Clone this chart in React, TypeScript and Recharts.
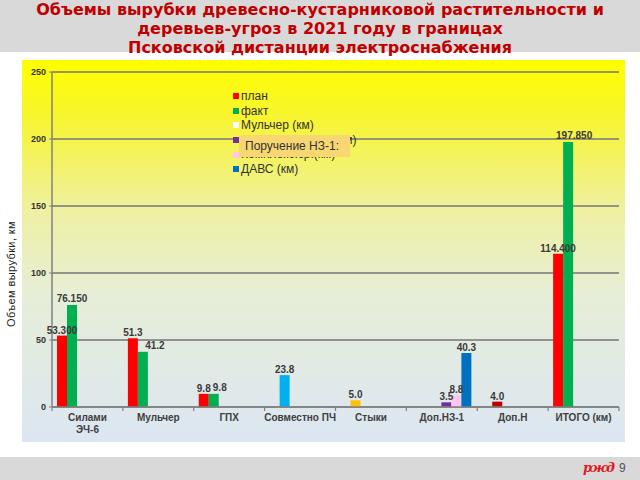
import { BarChart, Bar, XAxis, YAxis, CartesianGrid, LabelList, Legend } from "recharts"

const categories = ["Силами\nЭЧ-6", "Мульчер", "ГПХ", "Совместно ПЧ", "Стыки", "Доп.НЗ-1", "Доп.Н", "ИТОГО (км)"]
const plan = [53.3, 51.3, 9.8, null, null, null, null, 114.4]
const fact = [76.15, 41.2, 9.8, null, null, null, null, 197.85]
const jointPch = [null, null, null, 23.8, null, null, null, null]
const seams = [null, null, null, null, 5.0, null, null, null]
const extraN = [null, null, null, null, null, null, 4.0, null]
const mulcher = [null, null, null, null, null, null, null, null]
const orderNz = [null, null, null, null, null, 3.5, null, null]
const complexSr = [null, null, null, null, null, 8.8, null, null]
const davs = [null, null, null, null, null, 40.3, null, null]
const decimals = [3, 1, 1, 1, 1, 1, 1, 3]
const yTicks = [0, 50, 100, 150, 200, 250]

const legendItems = [
  { name: "план", color: "#ff0000" },
  { name: "факт", color: "#00b050" },
  { name: "Мульчер (км)", color: "#ffffff" },
  { name: "Поручение НЗ-1 (км)", color: "#7030a0" },
  { name: "Комплекс.ср.(км)", color: "#ffc6f0" },
  { name: "ДАВС (км)", color: "#0070c0" },
]

const fmt = (v: number | null, i: number) => (v == null ? null : v.toFixed(decimals[i]))

const data = categories.map((name, i) => ({
  name,
  plan: plan[i],
  fact: fact[i],
  jointPch: jointPch[i],
  seams: seams[i],
  extraN: extraN[i],
  mulcher: mulcher[i],
  orderNz: orderNz[i],
  complexSr: complexSr[i],
  davs: davs[i],
  planL: fmt(plan[i], i),
  factL: fmt(fact[i], i),
  jointPchL: fmt(jointPch[i], i),
  seamsL: fmt(seams[i], i),
  extraNL: fmt(extraN[i], i),
  orderNzL: fmt(orderNz[i], i),
  complexSrL: fmt(complexSr[i], i),
  davsL: fmt(davs[i], i),
}))

const CHART_W = 603
const CHART_H = 382
const MARGIN = { top: 12, right: 6, left: 0, bottom: 0 }
const Y_W = 30
const BAND = (CHART_W - Y_W - MARGIN.left - MARGIN.right) / categories.length

const sans = "'Liberation Sans', Arial, sans-serif"
const labelStyle = { fontSize: 10, fontWeight: 700, fill: "#3a3a3a", fontFamily: sans }

function CategoryTick({ x, y, payload, index }: any) {
  const lines = String(payload.value).split("\n")
  const last = index === categories.length - 1
  return (
    <g>
      <line x1={x - BAND / 2} x2={x - BAND / 2} y1={y} y2={y + 4} stroke="#808080" strokeWidth={1.2} />
      {last && <line x1={x + BAND / 2} x2={x + BAND / 2} y1={y} y2={y + 4} stroke="#808080" strokeWidth={1.2} />}
      <text x={x} y={y + 14} textAnchor="middle" fontSize={10} fontWeight={700} fill="#404040" fontFamily={sans}>
        {lines.map((l, i) => (
          <tspan key={i} x={x} dy={i === 0 ? 0 : 12}>{l}</tspan>
        ))}
      </text>
    </g>
  )
}

// fact labels sit a bit right of the bar where they'd run into the plan label (as in the original)
function FactLabel({ x, y, width, value, index }: any) {
  if (value == null) return null
  const dx = index === 0 ? 0 : index === 1 ? 12 : 6
  return (
    <text x={x + width / 2 + dx} y={y - 3} textAnchor="middle" {...labelStyle}>
      {value}
    </text>
  )
}

function LegendBox() {
  return (
    <div style={{ fontFamily: sans, fontSize: 12, color: "#333", lineHeight: "14.6px" }}>
      {legendItems.map((p) => (
        <div key={p.name} style={{ display: "flex", alignItems: "center", whiteSpace: "nowrap" }}>
          <span style={{ width: 6, height: 6, background: p.color, marginRight: 2, display: "inline-block" }} />
          {p.name}
        </div>
      ))}
    </div>
  )
}

export default function App() {
  return (
    <div style={{ position: "fixed", left: 0, top: 0, width: 640, height: 480, background: "#fff", overflow: "hidden" }}>
      <div
        style={{
          position: "absolute", left: 0, top: 0, width: 640, height: 52, background: "#d9d9d9",
          textAlign: "center", color: "#c00000", fontFamily: "'DejaVu Sans', Verdana, sans-serif",
          fontWeight: 700, fontSize: 16, lineHeight: "19px",
        }}
      >
        Объемы вырубки древесно-кустарниковой растительности и
        <br />
        деревьев-угроз в 2021 году в границах
        <br />
        Псковской дистанции электроснабжения
      </div>

      <div
        style={{
          position: "absolute", left: 22, top: 60, width: CHART_W, height: CHART_H,
          background: "linear-gradient(to bottom, #ffff00 0%, #f7f52c 14%, #eff0a4 40%, #e6eed8 62%, #dce6f2 100%)",
        }}
      >
        <BarChart width={CHART_W} height={CHART_H} data={data} margin={MARGIN} barSize={10} barGap={0}>
          <CartesianGrid vertical={false} stroke="#767676" strokeWidth={1.5} />
          <XAxis
            dataKey="name" height={35} interval={0} tickLine={false} tickSize={0} tickMargin={0}
            axisLine={{ stroke: "#808080", strokeWidth: 1.5 }} tick={<CategoryTick />}
          />
          <YAxis
            width={Y_W} domain={[0, 250]} ticks={yTicks} tickSize={3} tickMargin={3}
            axisLine={{ stroke: "#808080", strokeWidth: 1.5 }} tickLine={{ stroke: "#808080" }}
            tick={{ fontSize: 9, fontWeight: 700, fill: "#333", fontFamily: sans }}
          />
          <Legend
            layout="vertical" align="center" verticalAlign="middle" content={<LegendBox />}
            wrapperStyle={{ left: 211, top: 29, width: 140, height: 90 }}
          />
          <Bar dataKey="plan" name="план" stackId="s0" fill="#ff0000" isAnimationActive={false}>
            <LabelList dataKey="planL" position="top" offset={2} style={labelStyle} />
          </Bar>
          <Bar dataKey="fact" name="факт" stackId="s1" fill="#00b050" isAnimationActive={false}>
            <LabelList dataKey="factL" content={<FactLabel />} />
          </Bar>
          <Bar dataKey="jointPch" name="Совместно ПЧ" stackId="s1" fill="#00b0f0" isAnimationActive={false}>
            <LabelList dataKey="jointPchL" position="top" offset={2} style={labelStyle} />
          </Bar>
          <Bar dataKey="seams" name="Стыки" stackId="s1" fill="#ffc000" isAnimationActive={false}>
            <LabelList dataKey="seamsL" position="top" offset={2} style={labelStyle} />
          </Bar>
          <Bar dataKey="extraN" name="Доп.Н" stackId="s1" fill="#c00000" isAnimationActive={false}>
            <LabelList dataKey="extraNL" position="top" offset={2} style={labelStyle} />
          </Bar>
          <Bar dataKey="mulcher" name="Мульчер (км)" stackId="s2" fill="#ffffff" isAnimationActive={false} />
          <Bar dataKey="orderNz" name="Поручение НЗ-1 (км)" stackId="s3" fill="#7030a0" isAnimationActive={false}>
            <LabelList dataKey="orderNzL" position="top" offset={2} style={labelStyle} />
          </Bar>
          <Bar dataKey="complexSr" name="Комплекс.ср.(км)" stackId="s4" fill="#ffc6f0" isAnimationActive={false}>
            <LabelList dataKey="complexSrL" position="top" offset={2} style={labelStyle} />
          </Bar>
          <Bar dataKey="davs" name="ДАВС (км)" stackId="s5" fill="#0070c0" isAnimationActive={false}>
            <LabelList dataKey="davsL" position="top" offset={2} style={labelStyle} />
          </Bar>
        </BarChart>
        <div
          style={{
            position: "absolute", left: 217, top: 75, width: 111, height: 22, background: "#f8d672",
            fontFamily: sans, fontSize: 12, color: "#333", lineHeight: "22px", paddingLeft: 6, boxSizing: "border-box",
          }}
        >
          Поручение НЗ-1:
        </div>
      </div>

      <div style={{ position: "absolute", left: 11, top: 274, width: 0, height: 0 }}>
        <div
          style={{
            position: "absolute", left: -70, top: -7, width: 140, textAlign: "center", transform: "rotate(-90deg)",
            fontFamily: sans, fontSize: 11, color: "#222", lineHeight: "14px", whiteSpace: "nowrap", letterSpacing: 0.4,
          }}
        >
          Объем вырубки, км
        </div>
      </div>

      <div style={{ position: "absolute", left: 0, top: 457, width: 640, height: 23, background: "#d9d9d9" }}>
        <span
          style={{
            position: "absolute", left: 583, top: 2, fontFamily: "'DejaVu Serif', serif", fontWeight: 700,
            fontStyle: "italic", fontSize: 13, color: "#e21a1a", letterSpacing: -1.5, lineHeight: "18px",
          }}
        >
          ржд
        </span>
        <span style={{ position: "absolute", left: 619, top: 4, fontFamily: sans, fontSize: 12, color: "#555", lineHeight: "14px" }}>9</span>
      </div>
    </div>
  )
}
